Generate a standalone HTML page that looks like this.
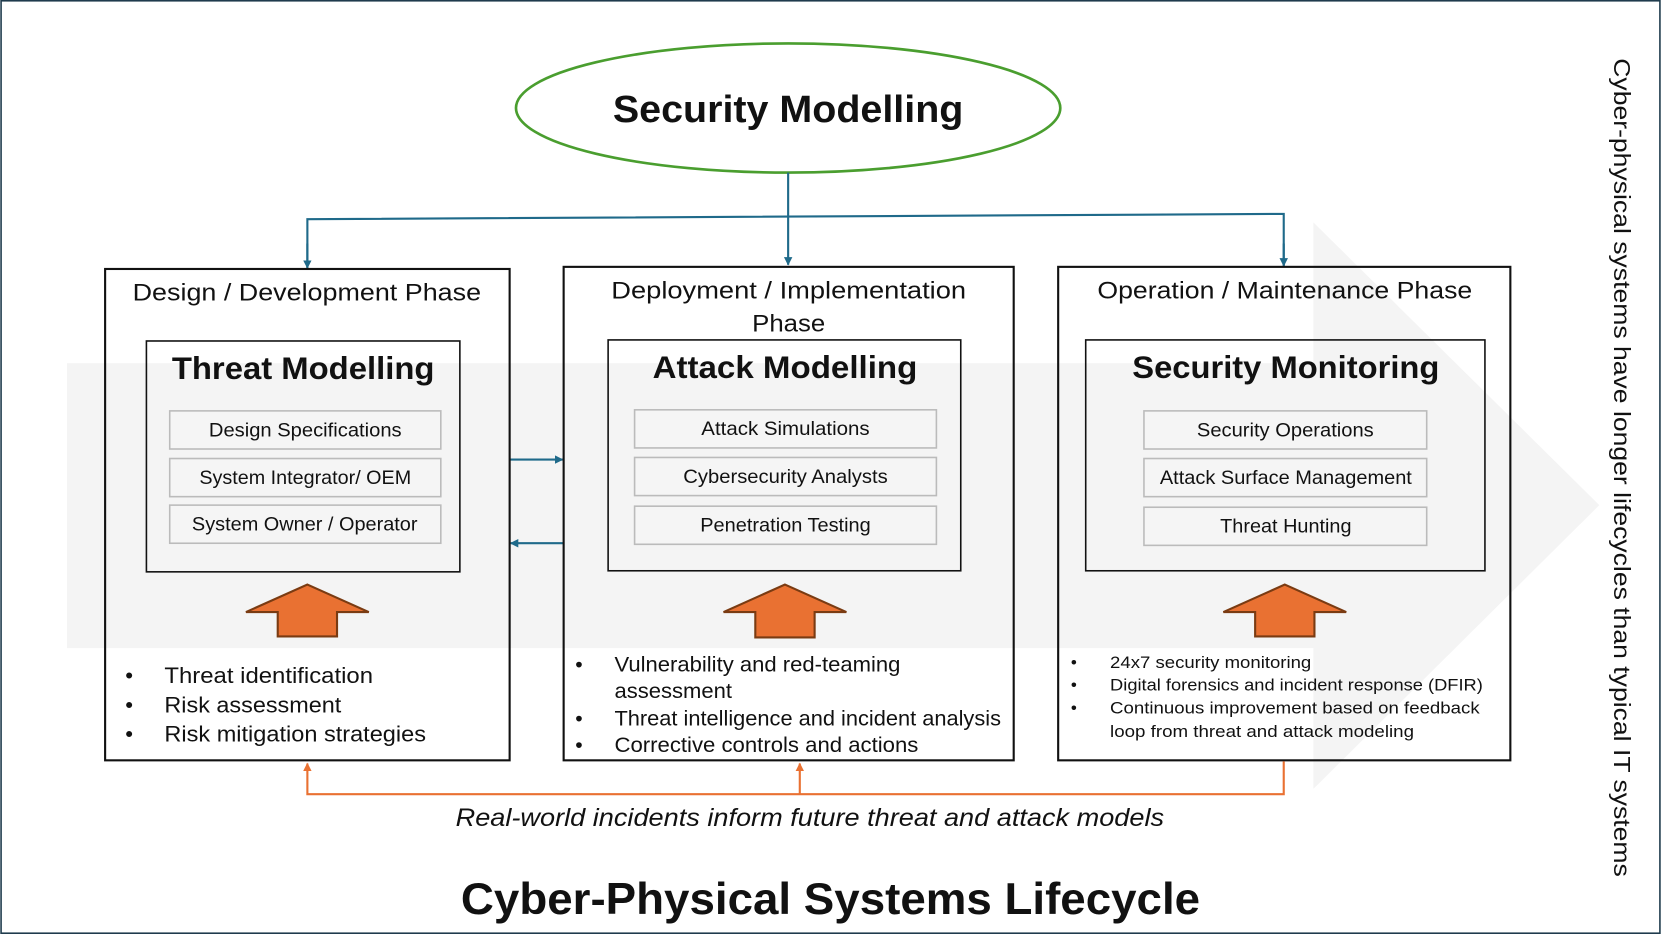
<!DOCTYPE html>
<html><head><meta charset="utf-8"><style>
html,body{margin:0;padding:0;background:#fff;}
svg{display:block;}
text{font-family:"Liberation Sans",sans-serif;fill:#111;}
</style></head><body>
<svg width="1661" height="934" viewBox="0 0 1568 882" xmlns="http://www.w3.org/2000/svg">
<defs>
<marker id="bl" viewBox="0 0 10 10" refX="9" refY="5" markerWidth="4" markerHeight="4" orient="auto"><path d="M0,0L10,5L0,10z" fill="#1f6a8a"/></marker>
<marker id="or" viewBox="0 0 10 10" refX="9" refY="5" markerWidth="4" markerHeight="4" orient="auto"><path d="M0,0L10,5L0,10z" fill="#e97132"/></marker>
</defs>
<rect x="0.75" y="0.75" width="1566.5" height="880.5" fill="#fff" stroke="#1f3b4d" stroke-width="1.5"/>
<path d="M63,343 L1240,343 L1240,210 L1510,477 L1240,745 L1240,612 L63,612 Z" fill="#f4f4f4"/>
<ellipse cx="744" cy="102" rx="257" ry="61" fill="#fff" stroke="#4a9e2f" stroke-width="2.5"/>
<text x="744" y="115" font-size="36" font-weight="bold" text-anchor="middle" textLength="331" lengthAdjust="spacingAndGlyphs">Security Modelling</text>
<g stroke="#1f6a8a" stroke-width="2" fill="none">
<line x1="744" y1="163" x2="744" y2="250" marker-end="url(#bl)"/>
<polyline points="290,253 290,207 1212,202 1212,251" />
<line x1="290" y1="230" x2="290" y2="253" marker-end="url(#bl)"/>
<line x1="1212" y1="230" x2="1212" y2="251" marker-end="url(#bl)"/>
<line x1="481" y1="434" x2="531" y2="434" marker-end="url(#bl)"/>
<line x1="532" y1="513" x2="482" y2="513" marker-end="url(#bl)"/>
</g>
<g fill="none" stroke="#111" stroke-width="2">
<rect x="99" y="254" width="382" height="464"/>
<rect x="532" y="252" width="425" height="466"/>
<rect x="999" y="252" width="427" height="466"/>
<rect x="138" y="322" width="296" height="218" stroke-width="1.5"/>
<rect x="574" y="321" width="333" height="218" stroke-width="1.5"/>
<rect x="1025" y="321" width="377" height="218" stroke-width="1.5"/>
</g>
<g font-size="23" text-anchor="middle" lengthAdjust="spacingAndGlyphs">
<text x="289.5" y="284" textLength="329" lengthAdjust="spacingAndGlyphs">Design /  Development Phase</text>
<text x="744.5" y="282" textLength="335" lengthAdjust="spacingAndGlyphs">Deployment / Implementation</text>
<text x="744.5" y="313" textLength="69" lengthAdjust="spacingAndGlyphs">Phase</text>
<text x="1213" y="282" textLength="354" lengthAdjust="spacingAndGlyphs">Operation / Maintenance Phase</text>
</g>
<g font-size="30" font-weight="bold" text-anchor="middle">
<text x="286" y="358" textLength="248" lengthAdjust="spacingAndGlyphs">Threat Modelling</text>
<text x="741" y="357" textLength="250" lengthAdjust="spacingAndGlyphs">Attack Modelling</text>
<text x="1214" y="357" textLength="290" lengthAdjust="spacingAndGlyphs">Security Monitoring</text>
</g>
<g fill="#f5f5f5" stroke="#bbb" stroke-width="1.5">
<rect x="160" y="388" width="256" height="36"/><rect x="160" y="433" width="256" height="36"/><rect x="160" y="477" width="256" height="36"/>
<rect x="599" y="387" width="285" height="36"/><rect x="599" y="432" width="285" height="36"/><rect x="599" y="478" width="285" height="36"/>
<rect x="1080" y="388" width="267" height="36"/><rect x="1080" y="433" width="267" height="36"/><rect x="1080" y="479" width="267" height="36"/>
</g>
<g font-size="18" text-anchor="middle">
<text x="288" y="412" textLength="182" lengthAdjust="spacingAndGlyphs">Design Specifications</text>
<text x="288" y="457" textLength="200" lengthAdjust="spacingAndGlyphs">System Integrator/ OEM</text>
<text x="287.5" y="501" textLength="213" lengthAdjust="spacingAndGlyphs">System Owner / Operator</text>
<text x="741.5" y="411" textLength="159" lengthAdjust="spacingAndGlyphs">Attack Simulations</text>
<text x="741.5" y="456" textLength="193" lengthAdjust="spacingAndGlyphs">Cybersecurity Analysts</text>
<text x="741.5" y="502" textLength="161" lengthAdjust="spacingAndGlyphs">Penetration Testing</text>
<text x="1213.5" y="412" textLength="167" lengthAdjust="spacingAndGlyphs">Security Operations</text>
<text x="1214" y="457" textLength="238" lengthAdjust="spacingAndGlyphs">Attack Surface Management</text>
<text x="1214" y="503" textLength="124" lengthAdjust="spacingAndGlyphs">Threat Hunting</text>
</g>
<g fill="#e97132" stroke="#7a3b12" stroke-width="2">
<path d="M290,552 L348,578 L318,578 L318,601 L262,601 L262,578 L232,578 Z"/>
<path d="M741,552 L799,578 L769,578 L769,602 L713,602 L713,578 L683,578 Z"/>
<path d="M1213,552 L1271,578 L1241,578 L1241,601 L1185,601 L1185,578 L1155,578 Z"/>
</g>
<g font-size="21">
<text x="118" y="645">•</text><text x="155" y="645" textLength="197" lengthAdjust="spacingAndGlyphs">Threat identification</text>
<text x="118" y="673">•</text><text x="155" y="673" textLength="167" lengthAdjust="spacingAndGlyphs">Risk assessment</text>
<text x="118" y="700">•</text><text x="155" y="700" textLength="247" lengthAdjust="spacingAndGlyphs">Risk mitigation strategies</text>
</g>
<g font-size="20">
<text x="543" y="634">•</text><text x="580" y="634" textLength="270" lengthAdjust="spacingAndGlyphs">Vulnerability and red-teaming</text>
<text x="580" y="659" textLength="111" lengthAdjust="spacingAndGlyphs">assessment</text>
<text x="543" y="685">•</text><text x="580" y="685" textLength="365" lengthAdjust="spacingAndGlyphs">Threat intelligence and incident analysis</text>
<text x="543" y="710">•</text><text x="580" y="710" textLength="287" lengthAdjust="spacingAndGlyphs">Corrective controls and actions</text>
</g>
<g font-size="16">
<text x="1011" y="631">•</text><text x="1048" y="631" textLength="190" lengthAdjust="spacingAndGlyphs">24x7 security monitoring</text>
<text x="1011" y="652">•</text><text x="1048" y="652" textLength="352" lengthAdjust="spacingAndGlyphs">Digital forensics and incident response (DFIR)</text>
<text x="1011" y="674">•</text><text x="1048" y="674" textLength="349" lengthAdjust="spacingAndGlyphs">Continuous improvement based on feedback</text>
<text x="1048" y="696" textLength="287" lengthAdjust="spacingAndGlyphs">loop from threat and attack modeling</text>
</g>
<g stroke="#e97132" stroke-width="2" fill="none">
<polyline points="1212,719 1212,750 290,750 290,721" marker-end="url(#or)"/>
<line x1="755" y1="750" x2="755" y2="721" marker-end="url(#or)"/>
</g>
<text x="764.5" y="780" font-size="24" font-style="italic" text-anchor="middle" textLength="669" lengthAdjust="spacingAndGlyphs">Real-world incidents inform future threat and attack models</text>
<text x="784" y="863" font-size="42" font-weight="bold" text-anchor="middle" textLength="698" lengthAdjust="spacingAndGlyphs">Cyber-Physical Systems Lifecycle</text>
<text x="0" y="0" font-size="22" transform="translate(1524,55) rotate(90)" textLength="773" lengthAdjust="spacingAndGlyphs">Cyber-physical systems have longer lifecycles than typical IT systems</text>
</svg>
</body></html>
